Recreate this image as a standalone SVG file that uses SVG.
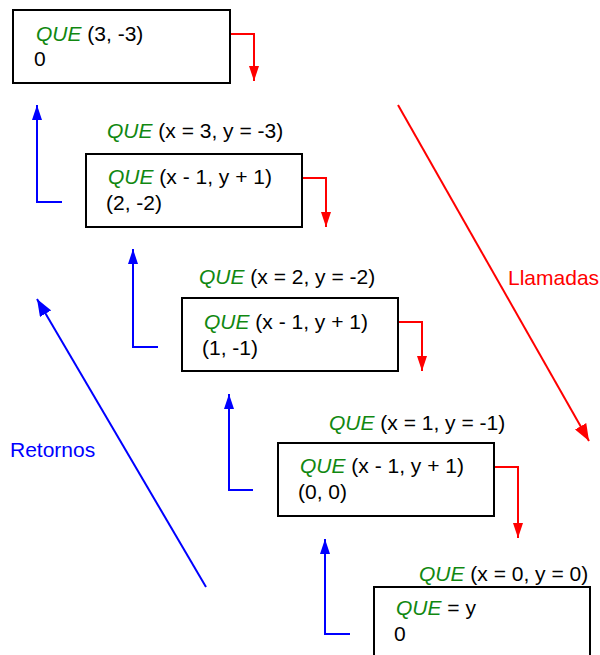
<svg xmlns="http://www.w3.org/2000/svg" width="600" height="655" viewBox="0 0 600 655">
<style>
text{font-family:"Liberation Sans",Arial,sans-serif;font-size:21px;fill:#000}
.q{fill:#118811;font-style:italic}
.box{fill:#fff;stroke:#000;stroke-width:2}
.r{fill:none;stroke:#ff0000;stroke-width:2}
.b{fill:none;stroke:#0000ff;stroke-width:2}
</style>
<defs>
<marker id="ar" markerUnits="userSpaceOnUse" markerWidth="15" markerHeight="10" refX="15" refY="5" viewBox="0 0 15 10" orient="auto"><path d="M0,0 L15,5 L0,10 Z" fill="#ff0000"/></marker>
<marker id="ab" markerUnits="userSpaceOnUse" markerWidth="15" markerHeight="10" refX="15" refY="5" viewBox="0 0 15 10" orient="auto"><path d="M0,0 L15,5 L0,10 Z" fill="#0000ff"/></marker>
<marker id="arL" markerUnits="userSpaceOnUse" markerWidth="17" markerHeight="13" refX="17" refY="6.5" viewBox="0 0 17 13" orient="auto"><path d="M0,0 L17,6.5 L0,13 Z" fill="#ff0000"/></marker>
<marker id="abL" markerUnits="userSpaceOnUse" markerWidth="17" markerHeight="13" refX="17" refY="6.5" viewBox="0 0 17 13" orient="auto"><path d="M0,0 L17,6.5 L0,13 Z" fill="#0000ff"/></marker>
</defs>
<g id="connectors">
<path class="r" d="M228,34 H254 V81" marker-end="url(#ar)"/>
<path class="r" d="M302,178 H326 V227" marker-end="url(#ar)"/>
<path class="r" d="M398,322 H422 V371" marker-end="url(#ar)"/>
<path class="r" d="M494,467 H518 V538" marker-end="url(#ar)"/>
<path class="b" d="M62,202 H37 V105" marker-end="url(#ab)"/>
<path class="b" d="M158,347 H133 V249" marker-end="url(#ab)"/>
<path class="b" d="M253,490 H229 V394" marker-end="url(#ab)"/>
<path class="b" d="M350,634 H325 V539" marker-end="url(#ab)"/>
<line class="r" x1="398" y1="105" x2="589" y2="441" marker-end="url(#arL)"/>
<line class="b" x1="206" y1="587" x2="37" y2="299" marker-end="url(#abL)"/>
<text x="508" y="285" style="fill:#ff0000">Llamadas</text>
<text x="10" y="457" style="fill:#0000ff">Retornos</text>
</g>
<g id="n1">
<rect class="box" x="13" y="10" width="217" height="73"/>
<text x="36" y="41"><tspan class="q">QUE</tspan> (3, -3)</text>
<text x="34" y="66">0</text>
</g>
<g id="n2">
<text x="107" y="138"><tspan class="q">QUE</tspan> (x = 3, y = -3)</text>
<rect class="box" x="86" y="154" width="216" height="73"/>
<text x="108" y="184"><tspan class="q">QUE</tspan> (x - 1, y + 1)</text>
<text x="106" y="210">(2, -2)</text>
</g>
<g id="n3">
<text x="199" y="284"><tspan class="q">QUE</tspan> (x = 2, y = -2)</text>
<rect class="box" x="182" y="298" width="216" height="73"/>
<text x="204" y="329"><tspan class="q">QUE</tspan> (x - 1, y + 1)</text>
<text x="202" y="355">(1, -1)</text>
</g>
<g id="n4">
<text x="329" y="430"><tspan class="q">QUE</tspan> (x = 1, y = -1)</text>
<rect class="box" x="278" y="443" width="216" height="73"/>
<text x="300" y="473"><tspan class="q">QUE</tspan> (x - 1, y + 1)</text>
<text x="298" y="499">(0, 0)</text>
</g>
<g id="n5">
<text x="419" y="581"><tspan class="q">QUE</tspan> (x = 0, y = 0)</text>
<rect class="box" x="374" y="587" width="216" height="80"/>
<text x="396" y="615"><tspan class="q">QUE</tspan> = y</text>
<text x="394" y="641">0</text>
</g>
</svg>
